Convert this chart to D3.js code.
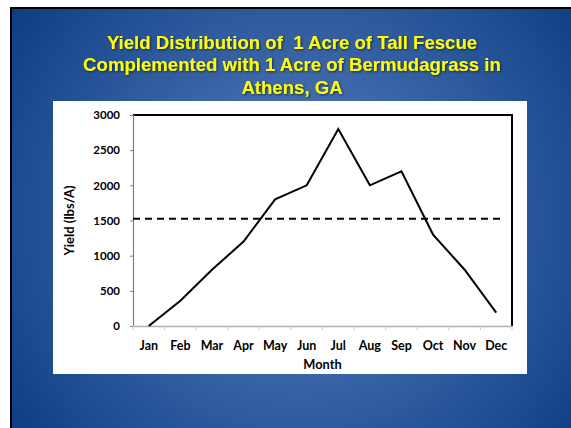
<!DOCTYPE html>
<html><head><meta charset="utf-8">
<script src="https://cdn.jsdelivr.net/npm/d3@7"></script>
<style>
html,body{margin:0;padding:0;background:#fff;}
svg{display:block;}
</style></head>
<body>
<svg id="c" width="571" height="428"></svg>
<script>
const months = ["Jan","Feb","Mar","Apr","May","Jun","Jul","Aug","Sep","Oct","Nov","Dec"];
const yieldValues = [0, 360, 800, 1200, 1800, 2000, 2800, 2000, 2200, 1300, 800, 190];
const averageYield = 1525;
const yTicks = [0, 500, 1000, 1500, 2000, 2500, 3000];
const titleLines = ["Yield Distribution of  1 Acre of Tall Fescue", "Complemented with 1 Acre of Bermudagrass in", "Athens, GA"];

const svg = d3.select("#c");
const defs = svg.append("defs");
const grad = defs.append("radialGradient").attr("id","bg")
  .attr("gradientUnits","userSpaceOnUse").attr("cx",300).attr("cy",220).attr("r",380);
grad.append("stop").attr("offset","0%").attr("stop-color","#5a82bf");
grad.append("stop").attr("offset","55%").attr("stop-color","#2e5a9e");
grad.append("stop").attr("offset","100%").attr("stop-color","#083a7e");
const sh = defs.append("filter").attr("id","sh").attr("x","-5%").attr("y","-20%").attr("width","110%").attr("height","140%");
sh.append("feDropShadow").attr("dx",1).attr("dy",1).attr("stdDeviation",0.8).attr("flood-color","#000").attr("flood-opacity",0.6);

// slide
svg.append("rect").attr("x",10).attr("y",7).attr("width",561).attr("height",421).attr("fill","#000");
svg.append("rect").attr("x",12).attr("y",9).attr("width",559).attr("height",419).attr("fill","url(#bg)");

// title
svg.append("g").selectAll("text").data(titleLines).join("text")
  .attr("x",292).attr("y",(d,i)=>48.5+i*22.5)
  .attr("text-anchor","middle")
  .attr("font-family","Liberation Sans, Arial, sans-serif")
  .attr("font-weight","bold").attr("font-size",18.6)
  .attr("fill","#ffff00").attr("filter","url(#sh)")
  .style("white-space","pre")
  .text(d=>d);

// chart box
svg.append("rect").attr("x",53).attr("y",101).attr("width",474).attr("height",273).attr("fill","#fff");

const pLeft = 133, pRight = 512, pTop = 115, pBottom = 326;
const x = d3.scaleBand().domain(months).range([pLeft,pRight]).paddingInner(0).paddingOuter(0);
const y = d3.scaleLinear().domain([0,3000]).range([pBottom,pTop]);
const font = "Lato, 'Open Sans', sans-serif";

// plot frame
svg.append("line").attr("x1",pLeft).attr("x2",pRight).attr("y1",pTop).attr("y2",pTop).attr("stroke","#000").attr("stroke-width",2);
svg.append("line").attr("x1",pRight).attr("x2",pRight).attr("y1",pTop-1).attr("y2",pBottom).attr("stroke","#000").attr("stroke-width",2);

// y axis
const yAxis = d3.axisLeft(y).tickValues(yTicks).tickSize(3).tickPadding(10).tickFormat(d3.format("d"));
const gy = svg.append("g").attr("transform",`translate(${pLeft},0)`).call(yAxis);
gy.select(".domain").attr("stroke","#808080").attr("stroke-width",1.2);
gy.selectAll(".tick line").attr("stroke","#808080");
gy.selectAll("text").attr("font-family",font).attr("font-weight","bold").attr("font-size",11.5).attr("fill","#000");

// x axis
const xAxis = d3.axisBottom(x).tickSize(0).tickPadding(15);
const gx = svg.append("g").attr("transform",`translate(0,${pBottom})`).call(xAxis);
gx.select(".domain").attr("stroke","#b0b0b0").attr("stroke-width",1.5);
gx.selectAll("text").attr("font-family",font).attr("font-weight","bold").attr("font-size",12.5).attr("fill","#000");
// category boundary ticks
const bounds = months.map(m=>x(m)).concat([pRight]);
svg.append("g").selectAll("line").data(bounds).join("line")
  .attr("x1",d=>d).attr("x2",d=>d).attr("y1",pBottom).attr("y2",pBottom+4)
  .attr("stroke","#c8c8c8").attr("stroke-width",1);

// average dashed line
svg.append("line")
  .attr("x1",pLeft).attr("x2",x("Dec")+x.bandwidth()/2+6)
  .attr("y1",y(averageYield)).attr("y2",y(averageYield))
  .attr("stroke","#000").attr("stroke-width",2).attr("stroke-dasharray","7,5");

// yield line
const line = d3.line().x((d,i)=>x(months[i])+x.bandwidth()/2).y(d=>y(d));
svg.append("path").datum(yieldValues).attr("d",line)
  .attr("fill","none").attr("stroke","#000").attr("stroke-width",2).attr("stroke-linejoin","miter");

// axis titles
svg.append("text").attr("transform",`translate(71,${(pTop+pBottom)/2}) rotate(-90)`)
  .attr("text-anchor","middle").attr("dominant-baseline","middle").attr("font-family",font).attr("font-weight","bold").attr("font-size",13)
  .text("Yield (lbs/A)");
svg.append("text").attr("x",(pLeft+pRight)/2).attr("y",368.5)
  .attr("text-anchor","middle").attr("font-family",font).attr("font-weight","bold").attr("font-size",12.8)
  .text("Month");
</script>
</body></html>
